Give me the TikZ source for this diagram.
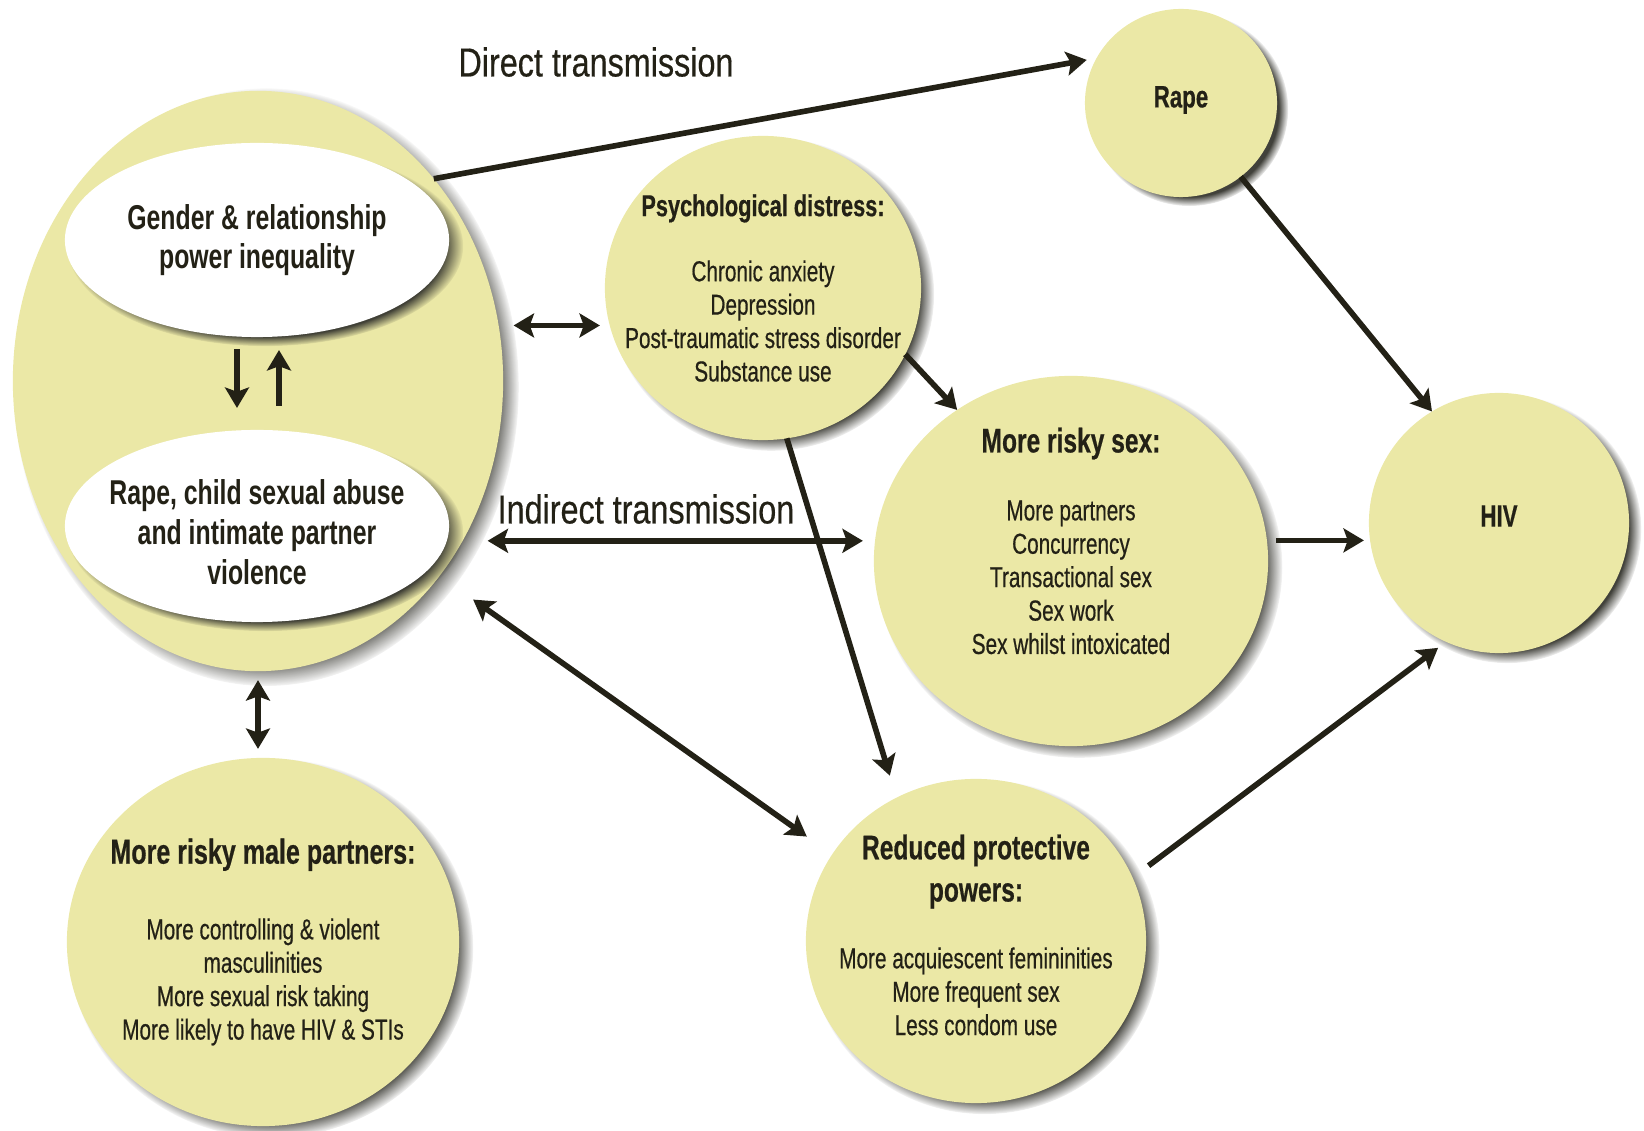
\documentclass[tikz,border=0pt]{standalone}
\usepackage{fontspec}
\setmainfont{Liberation Sans}[FakeStretch=0.72]
\newfontfamily\itemfont{Liberation Sans}[FakeStretch=0.72, FakeBold=0.5]
\newfontfamily\tagfont{Liberation Sans}[FakeStretch=0.8, FakeBold=0.4]
\usepackage{tikz}
\usetikzlibrary{shapes.geometric, arrows.meta, shadows, fadings}

\definecolor{cream}{RGB}{235,232,166}
\definecolor{ink}{RGB}{35,33,22}
\definecolor{shade}{RGB}{55,55,48}

\newcommand{\hd}{\bfseries\fontsize{9.7}{9.5}\selectfont}

\tikzstyle{blob} = [ellipse, fill=cream, inner sep=0pt, outer sep=0pt,
  circular drop shadow={shadow xshift=0.08cm, shadow yshift=-0.06cm, shadow scale=1.03, opacity=0.95, fill=shade, path fading={circle with fuzzy edge 10 percent}}]
\tikzstyle{hole} = [blob, fill=white]
\tikzstyle{lbl} = [align=center, text=ink, inner sep=0pt, font=\itemfont\fontsize{8.2}{9.5}\selectfont]
\tikzstyle{big lbl} = [lbl, font=\bfseries\fontsize{9.8}{11.3}\selectfont]
\tikzstyle{tag} = [text=ink, font=\tagfont\fontsize{11.5}{13}\selectfont, inner sep=0pt]
\tikzstyle{arrow} = [line width=1.6pt, draw=ink, ->, >={Stealth[length=5.8pt,width=6.8pt,inset=1.2pt]}]
\tikzstyle{both} = [arrow, <->]

\begin{document}
\begin{tikzpicture}[x=0.01cm, y=-0.01cm]
\useasboundingbox (0,0) rectangle (1644,1131);

% left side
\node (big) [blob, minimum width=4.9cm, minimum height=5.8cm] at (258,381) {};
\node (gender) [hole, minimum width=3.84cm, minimum height=1.94cm,
  label={[big lbl]center:{Gender \& relationship\\power inequality}}] at (257,240) {};
\node (abuse) [hole, minimum width=3.84cm, minimum height=1.92cm,
  label={[big lbl, yshift=-0.06cm]center:{Rape, child sexual abuse\\and intimate partner\\violence}}] at (257,526) {};
\node (male) [blob, minimum width=3.92cm, minimum height=3.68cm,
  label={[lbl]center:{{\hd\fontsize{9.9}{9.5}\selectfont More risky male partners:}\\[12pt]More controlling \& violent\\masculinities\\More sexual risk taking\\More likely to have HIV \& STIs}}] at (263,942) {};

% middle and right
\node (rape) [blob, minimum width=1.92cm, minimum height=1.88cm,
  label={[lbl, yshift=0.03cm]center:{\hd\fontsize{8.8}{9.5}\selectfont Rape}}] at (1181,103) {};
\node (psych) [blob, minimum width=3.16cm, minimum height=3.04cm,
  label={[lbl]center:{{\hd\fontsize{8.6}{9.5}\selectfont Psychological distress:}\\[9pt]Chronic anxiety\\Depression\\Post-traumatic stress disorder\\Substance use}}] at (763,288) {};
\node (risky) [blob, minimum width=3.94cm, minimum height=3.7cm,
  label={[lbl, yshift=0.2cm]center:{{\hd More risky sex:}\\[9.8pt]More partners\\Concurrency\\Transactional sex\\Sex work\\Sex whilst intoxicated}}] at (1071,561) {};
\node (reduced) [blob, minimum width=3.4cm, minimum height=3.24cm,
  label={[lbl, yshift=0.06cm]center:{{\hd Reduced protective}\\[2.5pt]{\hd powers:}\\[9.5pt]More acquiescent femininities\\More frequent sex\\Less condom use}}] at (976,941) {};
\node (hiv) [blob, minimum width=2.6cm, minimum height=2.6cm,
  label={[lbl, yshift=0.07cm]center:{\hd\fontsize{8.8}{9.5}\selectfont HIV}}] at (1499,523) {};

\node (direct) [tag] at (596,62) {Direct transmission};
\node (indirect) [tag] at (646,509) {Indirect transmission};

% connections
\draw [arrow, shorten <=0.12cm, shorten >=0.22cm] ([xshift=-0.2cm]gender.south) -- ([xshift=-0.2cm]gender.south |- abuse.north);
\draw [arrow, shorten <=0.24cm, shorten >=0.13cm] ([xshift=0.22cm]abuse.north) -- ([xshift=0.22cm]abuse.north |- gender.south);
\draw [arrow, shorten >=0.1cm] (big.49) -- (rape.152);
\draw [arrow] (rape.-51) -- (hiv.121);
\draw [both, shorten <=0.15cm, shorten >=0.05cm] (big.13) -- (big.13 -| psych.west);
\draw [arrow] (psych.-25) -- (risky.127);
\draw [arrow, shorten >=0.23cm] (psych.-81) -- (reduced.119);
\draw [both, shorten <=0.25cm, shorten >=0.11cm] (big.-38) -- (big.-38 -| risky.west);
\draw [arrow, shorten <=0.09cm, shorten >=0.05cm] (risky.6) -- (risky.6 -| hiv.west);
\draw [both, shorten <=0.41cm, shorten >=0.31cm] (big.-47) -- (reduced.149);
\draw [arrow, shorten <=0.2cm, shorten >=0.1cm] (reduced.22) -- (hiv.246);
\draw [both, shorten <=0.09cm, shorten >=0.09cm] (big.south) -- (big.south |- male.north);
\end{tikzpicture}
\end{document}
